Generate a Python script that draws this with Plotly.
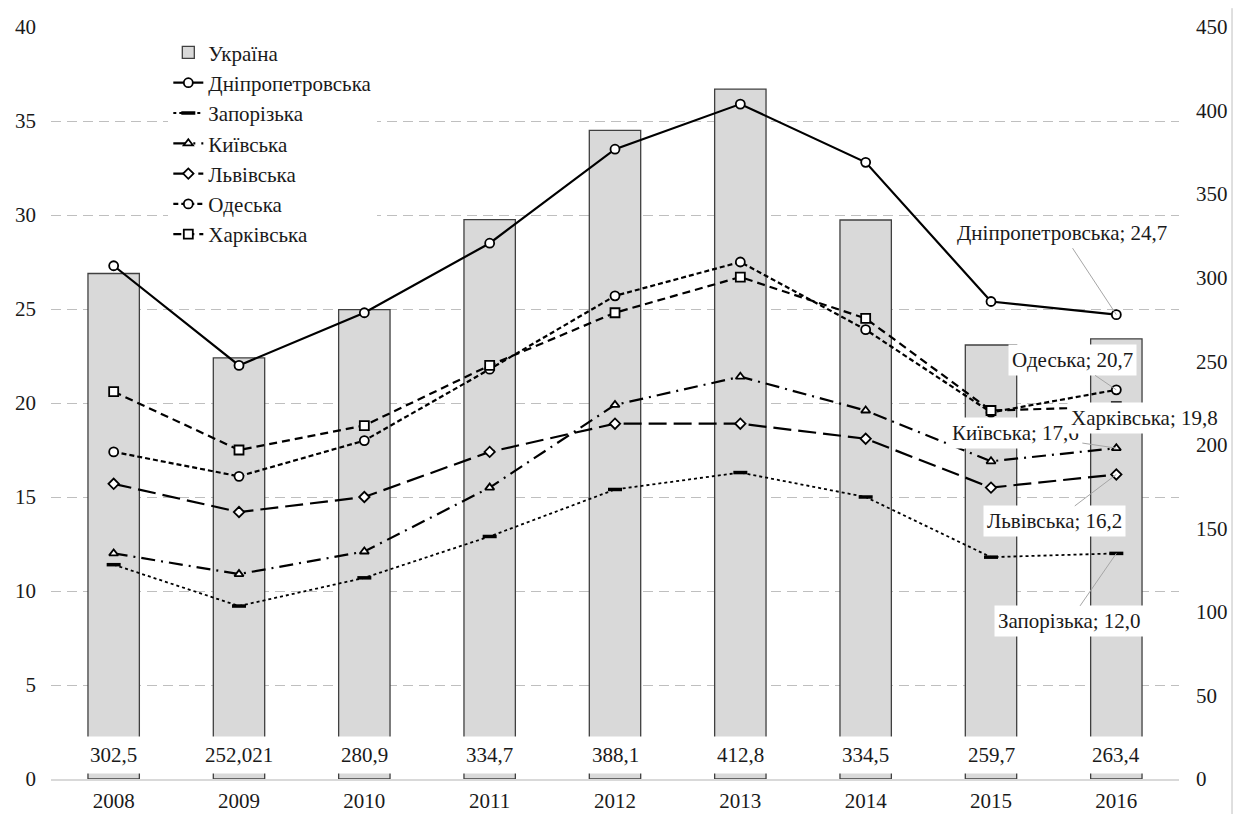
import plotly.graph_objects as go

years = ["2008", "2009", "2010", "2011", "2012", "2013", "2014", "2015", "2016"]
ukraine = [302.5, 252.021, 280.9, 334.7, 388.1, 412.8, 334.5, 259.7, 263.4]
dnipro = [27.3, 22.0, 24.8, 28.5, 33.5, 35.9, 32.8, 25.4, 24.7]
zapor = [11.4, 9.2, 10.7, 12.9, 15.4, 16.3, 15.0, 11.8, 12.0]
kyiv = [12.0, 10.9, 12.1, 15.5, 19.9, 21.4, 19.6, 16.9, 17.6]
lviv = [15.7, 14.2, 15.0, 17.4, 18.9, 18.9, 18.1, 15.5, 16.2]
odesa = [17.4, 16.1, 18.0, 21.8, 25.7, 27.5, 23.9, 19.5, 20.7]
kharkiv = [20.6, 17.5, 18.8, 22.0, 24.8, 26.7, 24.5, 19.6, 19.8]

left_ticks = [0, 5, 10, 15, 20, 25, 30, 35, 40]
right_ticks = [0, 50, 100, 150, 200, 250, 300, 350, 400, 450]

FONT = "Liberation Serif"
FS = 21
TXT = "#1a1a1a"

fig = go.Figure()

# bars on primary axis (right side), lines on overlaying axis (left) so lines sit above bars
fig.add_trace(go.Bar(
    x=years, y=ukraine, name="Україна", yaxis="y", width=0.41,
    marker=dict(color="#d9d9d9", line=dict(color="#404040", width=1.3)),
))

series = [
    ("Дніпропетровська", dnipro, "solid", "circle", 9, 2.2),
    ("Запорізька", zapor, "dot", "line-ew-open", 10, 1.8),
    ("Київська", kyiv, "14px,6px,2px,6px", "triangle-up", 8, 2.2),
    ("Львівська", lviv, "18px,7px", "diamond", 8, 2.2),
    ("Одеська", odesa, "5px,3px", "circle", 9, 2.2),
    ("Харківська", kharkiv, "8px,5px", "square", 9, 2.2),
]
for name, vals, dash, sym, msize, lw in series:
    if sym == "line-ew-open":
        marker = dict(symbol=sym, size=msize, line=dict(color="black", width=3.5))
    else:
        marker = dict(symbol=sym, size=msize, color="white", line=dict(color="black", width=1.8))
    fig.add_trace(go.Scatter(
        x=years, y=vals, name=name, mode="lines+markers", yaxis="y2",
        line=dict(color="black", width=lw, dash=dash),
        marker=marker,
    ))

annotations = []
# bar value labels near the bar base (x given as category index)
for i, v in enumerate(ukraine):
    annotations.append(dict(
        x=i, y=0, xref="x", yref="y", yshift=24, yanchor="middle",
        text=str(v).replace(".", ","), showarrow=False,
        bgcolor="white", borderpad=6,
        font=dict(family=FONT, size=FS, color=TXT),
    ))

label_specs = [
    ("Дніпропетровська", dnipro, -54, -82),
    ("Одеська", odesa, -44, -30),
    ("Київська", kyiv, -101, -15),
    ("Харківська", kharkiv, 28, 11),
    ("Львівська", lviv, -62, 47),
    ("Запорізька", zapor, -47, 68),
]
last = len(years) - 1
for name, vals, ax, ay in label_specs:
    v = vals[last]
    annotations.append(dict(
        x=last, y=v, xref="x", yref="y2",
        text=f"{name}; {v:.1f}".replace(".", ","),
        showarrow=True, arrowhead=0, arrowwidth=1, arrowcolor="#a6a6a6",
        ax=ax, ay=ay,
        bgcolor="white", borderpad=3,
        font=dict(family=FONT, size=FS, color=TXT),
    ))

shapes = [
    # white backing behind the legend (hides gridlines there, stays below traces)
    dict(type="rect", xref="x", yref="paper", x0=-0.5, x1=2.7, y0=0.714, y1=0.99,
         fillcolor="white", line=dict(width=0), layer="below"),
    # outer chart border on the right
    dict(type="line", xref="paper", yref="paper", x0=1.047, x1=1.047, y0=-0.06, y1=1.025,
         line=dict(color="#bfbfbf", width=1)),
]

# page body has an 8px margin: shrink the figure so the plot lands where the reference is
fig.update_layout(
    width=1233, height=806,
    margin=dict(l=43, r=62, t=19, b=35),
    paper_bgcolor="white", plot_bgcolor="white",
    font=dict(family=FONT, size=FS, color=TXT),
    barmode="overlay",
    showlegend=True,
    legend=dict(
        x=0.104, y=0.993, xanchor="left", yanchor="top",
        bgcolor="white", font=dict(family=FONT, size=FS, color=TXT),
    ),
    xaxis=dict(
        type="category", range=[-0.5, 8.5], showgrid=False,
        showline=True, linecolor="#d9d9d9", linewidth=1.5,
        ticks="", ticklabelstandoff=2, zeroline=False, automargin=False,
    ),
    yaxis=dict(
        range=[0, 450], tickvals=right_ticks, side="right",
        showgrid=False, zeroline=False, showline=False, ticks="",
        ticklabelstandoff=16, automargin=False,
    ),
    yaxis2=dict(
        range=[0, 40], tickvals=left_ticks, overlaying="y", side="left",
        showgrid=True, gridcolor="#bfbfbf",
        griddash="10px,6px", gridwidth=1.2, zeroline=False, showline=False,
        ticks="", ticklabelstandoff=14, automargin=False,
    ),
    annotations=annotations,
    shapes=shapes,
)

fig.write_html("out.html")
